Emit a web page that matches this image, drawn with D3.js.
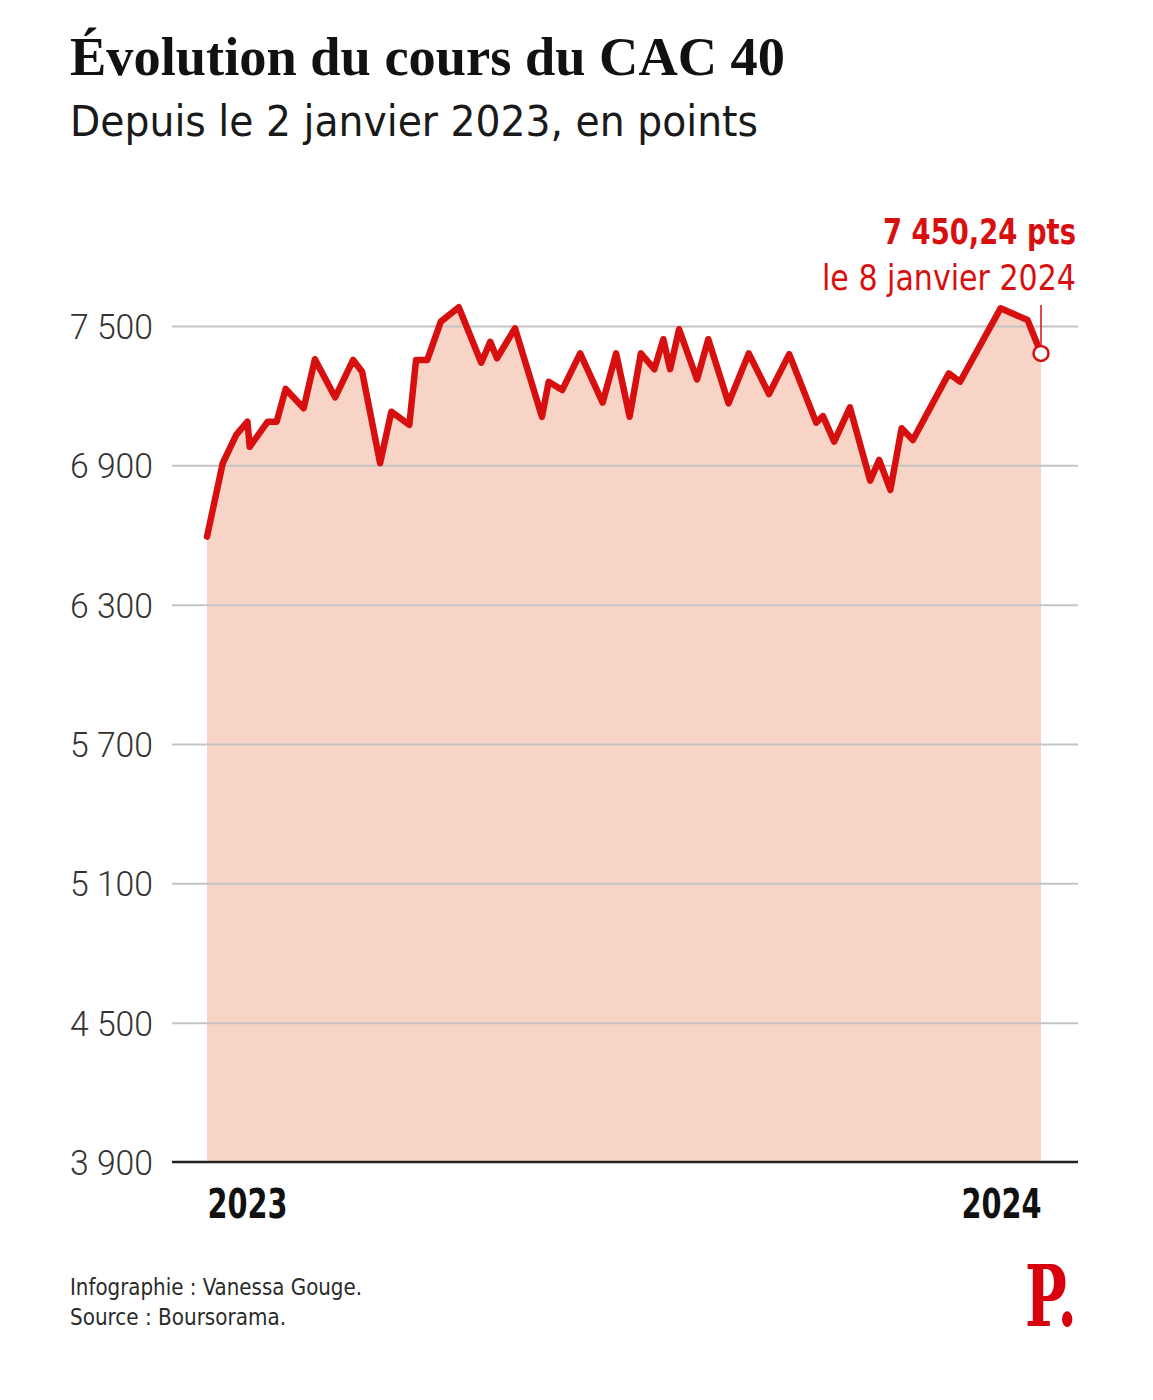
<!DOCTYPE html>
<html>
<head>
<meta charset="utf-8">
<script src="https://cdn.jsdelivr.net/npm/d3@7"></script>
<style>
  html, body { margin: 0; padding: 0; background: #ffffff; }
  svg { display: block; }
</style>
</head>
<body>
<svg id="chart" width="1153" height="1400"></svg>
<script>
// ---- Data ----
const dates = [
  "2023-01-02","2023-01-09","2023-01-15","2023-01-20","2023-01-21","2023-01-29",
  "2023-02-02","2023-02-06","2023-02-14","2023-02-19","2023-02-28",
  "2023-03-08","2023-03-12","2023-03-20","2023-03-25",
  "2023-04-02","2023-04-05","2023-04-10","2023-04-16","2023-04-24",
  "2023-05-04","2023-05-08","2023-05-11","2023-05-19","2023-05-31",
  "2023-06-03","2023-06-09","2023-06-17","2023-06-27",
  "2023-07-03","2023-07-09","2023-07-14","2023-07-20","2023-07-24","2023-07-27","2023-07-31",
  "2023-08-08","2023-08-13","2023-08-22","2023-08-31",
  "2023-09-09","2023-09-18","2023-09-30",
  "2023-10-03","2023-10-08","2023-10-15","2023-10-24","2023-10-28",
  "2023-11-02","2023-11-07","2023-11-12","2023-11-28",
  "2023-12-03","2023-12-21",
  "2024-01-02","2024-01-08"
];
const values = [
  6593, 6909, 7031, 7088, 6980, 7088,
  7088, 7229, 7146, 7357, 7193,
  7354, 7303, 6909, 7131,
  7074, 7354, 7354, 7519, 7581,
  7342, 7432, 7361, 7490, 7109,
  7260, 7224, 7382, 7170,
  7382, 7109, 7382, 7314, 7443, 7314, 7486,
  7270, 7443, 7167, 7382,
  7207, 7379, 7084,
  7112, 7002, 7150, 6834, 6923,
  6794, 7060, 7009, 7296,
  7260, 7576,
  7526, 7382
];
const yTicks = [3900, 4500, 5100, 5700, 6300, 6900, 7500];
const yearLabels = ["2023", "2024"];
const titleText = "Évolution du cours du CAC 40";
const subtitleText = "Depuis le 2 janvier 2023, en points";
const annotValue = "7 450,24 pts";
const annotDate = "le 8 janvier 2024";
const credits = ["Infographie : Vanessa Gouge.", "Source : Boursorama."];

// ---- Setup ----
const parse = d3.timeParse("%Y-%m-%d");
const data = dates.map((d, i) => ({ date: parse(d), value: values[i] }));

const svg = d3.select("#chart");
const red = "#d7100f";
const fillColor = "#f7d4c6";
const condensed = "'DejaVu Sans Condensed', 'Roboto', sans-serif";

const plotLeft = 172, plotRight = 1078, plotTop = 326, plotBottom = 1162;
const x = d3.scaleTime()
  .domain(d3.extent(data, d => d.date))
  .range([207, 1041]);
const y = d3.scaleLinear()
  .domain([3900, 7500])
  .range([plotBottom, plotTop]);

const fr = d3.formatLocale({ decimal: ",", thousands: " ", grouping: [3], currency: ["", " €"] });
const fmt = fr.format(",d");

// Title & subtitle
svg.append("text")
  .attr("x", 70).attr("y", 75)
  .attr("font-family", "'Liberation Serif', 'DejaVu Serif', serif")
  .attr("font-weight", 700)
  .attr("font-size", 54)
  .attr("fill", "#111")
  .attr("textLength", 715).attr("lengthAdjust", "spacingAndGlyphs")
  .text(titleText);

svg.append("text")
  .attr("x", 70).attr("y", 136)
  .attr("font-family", condensed)
  .attr("font-weight", 400)
  .attr("font-size", 43)
  .attr("fill", "#1a1a1a")
  .attr("textLength", 688).attr("lengthAdjust", "spacingAndGlyphs")
  .text(subtitleText);

// Area
const area = d3.area()
  .x(d => x(d.date))
  .y0(y(3900))
  .y1(d => y(d.value));
svg.append("path")
  .datum(data)
  .attr("d", area)
  .attr("fill", fillColor);

// Y axis with gridlines
const yAxis = svg.append("g")
  .attr("transform", `translate(${plotLeft},0)`)
  .call(d3.axisLeft(y)
    .tickValues(yTicks)
    .tickSize(-(plotRight - plotLeft))
    .tickPadding(19)
    .tickFormat(fmt));
yAxis.select(".domain").remove();
yAxis.selectAll(".tick line")
  .attr("stroke", "#c4c4c4")
  .attr("stroke-width", 2)
  .attr("opacity", d => d === 3900 ? 0 : 1);
yAxis.selectAll(".tick text")
  .attr("font-family", "'Roboto', sans-serif")
  .attr("font-weight", 300)
  .attr("font-size", 35)
  .attr("fill", "#333")
  .attr("textLength", 83).attr("lengthAdjust", "spacingAndGlyphs")
  .attr("dy", "0.36em");

// Baseline
svg.append("line")
  .attr("x1", plotLeft).attr("x2", plotRight)
  .attr("y1", y(3900)).attr("y2", y(3900))
  .attr("stroke", "#222").attr("stroke-width", 2.5);

// Line
const line = d3.line()
  .x(d => x(d.date))
  .y(d => y(d.value))
  .curve(d3.curveLinear);
svg.append("path")
  .datum(data)
  .attr("d", line)
  .attr("fill", "none")
  .attr("stroke", red)
  .attr("stroke-width", 6.5)
  .attr("stroke-linejoin", "round")
  .attr("stroke-linecap", "round");

// X axis year labels
const xAxis = svg.append("g")
  .attr("transform", `translate(0,${plotBottom})`)
  .call(d3.axisBottom(x)
    .tickValues([data[0].date, data[data.length - 1].date])
    .tickSize(0)
    .tickPadding(0)
    .tickFormat((d, i) => yearLabels[i]));
xAxis.select(".domain").remove();
xAxis.selectAll(".tick text")
  .attr("text-anchor", (d, i) => i === 0 ? "start" : "end")
  .attr("font-family", condensed)
  .attr("font-weight", 700)
  .attr("font-size", 41)
  .attr("fill", "#111")
  .attr("y", 56)
  .attr("dy", 0)
  .attr("textLength", 80).attr("lengthAdjust", "spacingAndGlyphs");

// Annotation
const last = data[data.length - 1];
svg.append("line")
  .attr("x1", x(last.date)).attr("x2", x(last.date))
  .attr("y1", 305).attr("y2", y(last.value))
  .attr("stroke", red).attr("stroke-width", 1.5);
svg.append("circle")
  .attr("cx", x(last.date)).attr("cy", y(last.value))
  .attr("r", 7.5)
  .attr("fill", "#fff")
  .attr("stroke", red).attr("stroke-width", 2.5);

svg.append("text")
  .attr("x", 1076).attr("y", 244)
  .attr("text-anchor", "end")
  .attr("font-family", condensed)
  .attr("font-weight", 700)
  .attr("font-size", 35)
  .attr("fill", red)
  .attr("textLength", 193).attr("lengthAdjust", "spacingAndGlyphs")
  .text(annotValue);
svg.append("text")
  .attr("x", 1076).attr("y", 290)
  .attr("text-anchor", "end")
  .attr("font-family", condensed)
  .attr("font-weight", 400)
  .attr("font-size", 35)
  .attr("fill", red)
  .attr("textLength", 254).attr("lengthAdjust", "spacingAndGlyphs")
  .text(annotDate);

// Credits
svg.selectAll("text.credit")
  .data(credits)
  .join("text")
  .attr("class", "credit")
  .attr("x", 70)
  .attr("y", (d, i) => 1295 + i * 30)
  .attr("font-family", condensed)
  .attr("font-size", 23)
  .attr("fill", "#2a2a2a")
  .attr("textLength", (d, i) => i === 0 ? 292 : 216).attr("lengthAdjust", "spacingAndGlyphs")
  .text(d => d);

// Logo
svg.append("text")
  .attr("x", 1077).attr("y", 1326)
  .attr("text-anchor", "end")
  .attr("font-family", "'DejaVu Serif', serif")
  .attr("font-weight", 700)
  .attr("font-size", 84)
  .attr("fill", "#d9000d")
  .attr("textLength", 52).attr("lengthAdjust", "spacingAndGlyphs")
  .text("P.");
</script>
</body>
</html>
